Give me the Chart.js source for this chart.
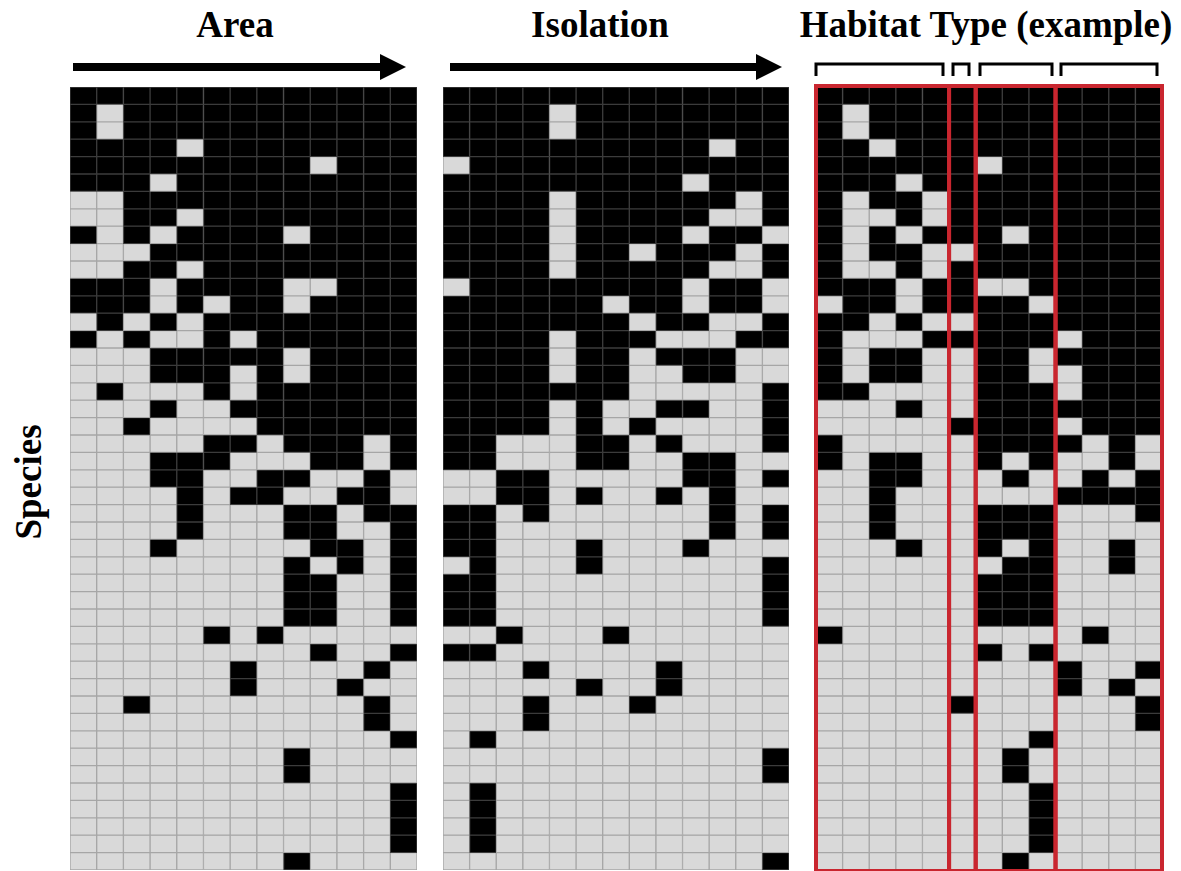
<!DOCTYPE html>
<html>
<head>
<meta charset="utf-8">
<script src="https://cdn.jsdelivr.net/npm/chart.js@4.4.1/dist/chart.umd.min.js"></script>
<style>
  html, body { margin: 0; padding: 0; background: #fff; }
  body { width: 1181px; height: 871px; position: relative; overflow: hidden;
         font-family: "Liberation Serif", "Times New Roman", serif; }
  canvas { position: absolute; }
  .title { position: absolute; top: 6px; font-weight: bold; font-size: 37px; line-height: 1;
           transform: translateX(-50%); white-space: nowrap; color: #000; }
  .ylab { position: absolute; left: 28px; top: 482px; font-weight: bold; font-size: 37px; line-height: 1;
          transform: translate(-50%, -50%) rotate(-90deg); white-space: nowrap; color: #000; }
  svg { position: absolute; left: 0; top: 0; }
</style>
</head>
<body>
<div class="title" style="left:235px">Area</div>
<div class="title" style="left:600px">Isolation</div>
<div class="title" style="left:986px">Habitat Type (example)</div>
<div class="ylab">Species</div>
<svg width="1181" height="100">
  <line x1="73" y1="67" x2="384" y2="67" stroke="#000" stroke-width="8"/>
  <polygon points="380,54 406,67 380,80" fill="#000"/>
  <line x1="450" y1="67" x2="760" y2="67" stroke="#000" stroke-width="8"/>
  <polygon points="756,54 782,67 756,80" fill="#000"/>
  <polyline points="816,76 816,64 943,64 943,76" fill="none" stroke="#000" stroke-width="3"/>
  <polyline points="953,76 953,64 969,64 969,76" fill="none" stroke="#000" stroke-width="3"/>
  <polyline points="980,76 980,64 1052,64 1052,76" fill="none" stroke="#000" stroke-width="3"/>
  <polyline points="1061,76 1061,64 1157,64 1157,76" fill="none" stroke="#000" stroke-width="3"/>
</svg>
<canvas id="c1" width="347" height="783" style="left:70px;top:87px"></canvas>
<canvas id="c2" width="346" height="783" style="left:443px;top:87px"></canvas>
<canvas id="c3" width="356" height="789" style="left:811px;top:82px"></canvas>
<script>
// Sites (columns) and presence (1) / absence (0) of each species (rows)
const sites = ['1','2','3','4','5','6','7','8','9','10','11','12','13'];

const areaRows = [
  '1111111111111','1011111111111','1011111111111','1111011111111','1111111110111',
  '1110111111111','0011111111111','0011011111111','1010111101111','0001111111111',
  '0011011111111','1110111100111','1110101101111','0101011111111','1010010111111',
  '0001111101111','0001110101111','0100010111111','0001001111111','0010000111111',
  '0000011011101','0001110001101','0001100110010','0000101100110','0000100011011',
  '0000100011001','0001000001101','0000000010101','0000000011001','0000000011001',
  '0000000011001','0000010100000','0000000001001','0000001000010','0000001000100',
  '0010000000010','0000000000010','0000000000001','0000000010000','0000000010000',
  '0000000000001','0000000000001','0000000000001','0000000000001','0000000010000'
];

const isolationRows = [
  '1111111111111','1111011111111','1111011111111','1111111111011','0111111111111',
  '1111111110111','1111011111101','1111011111001','1111011110110','1111011011101',
  '1111011111001','0111111110110','1111110110110','1111111011001','1111011100011',
  '1111011011100','1111011001100','1111111000001','1111010011001','1111010100001',
  '1100011010001','1100011001100','0011000001101','0011010010100','1101000000101',
  '1100000000101','1100010001000','0100010000001','1100000000001','1100000000001',
  '1100000000001','0010001000000','1100000000000','0001000010000','0000010010000',
  '0001000100000','0001000000000','0100000000000','0000000000001','0000000000001',
  '0100000000000','0100000000000','0100000000000','0100000000000','0000000000001'
];

const habitatRows = [
  '1111111111111','1011111111111','1011111111111','1101111111111','1111110111111',
  '1110111111111','1011011111111','1001011111111','1010111011111','1011001111111',
  '1001011111111','1110110011111','0110111101111','1101001111111','1000111110111',
  '1011001101111','1011001100111','1100001110111','0001001111111','0000011110111',
  '1000001111010','1011001010010','0011000100101','0010000001111','0010001110001',
  '0010001110000','0001001010010','0000000110010','0000001110000','0000001110000',
  '0000001110000','1000000000100','0000001010000','0000000001001','0000000001010',
  '0000010000001','0000000000001','0000000010000','0000000100000','0000000100000',
  '0000000010000','0000000010000','0000000010000','0000000010000','0000000100000'
];

// Habitat type groups: number of consecutive sites in each
const habitatGroups = [5, 1, 3, 4];

const PRESENT = '#000000', ABSENT = '#d9d9d9';
const PRESENT_EDGE = '#3c3c3c', ABSENT_EDGE = '#a6a6a6';

function buildDatasets(rows) {
  return rows.map((row, r) => {
    const cells = row.split('');
    return {
      label: 'Species ' + (r + 1),
      data: sites.map(() => 1),
      backgroundColor: cells.map(c => c === '1' ? PRESENT : ABSENT),
      borderColor: cells.map(c => c === '1' ? PRESENT_EDGE : ABSENT_EDGE),
      borderWidth: 1,
      borderSkipped: false,
      barPercentage: 1,
      categoryPercentage: 1
    };
  });
}

function makeChart(id, rows, padding, plugins) {
  return new Chart(document.getElementById(id), {
    type: 'bar',
    data: { labels: sites, datasets: buildDatasets(rows) },
    options: {
      responsive: false,
      animation: false,
      devicePixelRatio: 1,
      layout: { padding: padding },
      plugins: { legend: { display: false }, tooltip: { enabled: false } },
      scales: {
        x: { stacked: true, display: false, offset: true, grid: { display: false } },
        y: { stacked: true, display: false, min: 0, max: rows.length, reverse: true, grid: { display: false } }
      }
    },
    plugins: plugins || []
  });
}

const groupBoxes = {
  id: 'groupBoxes',
  afterDatasetsDraw(chart) {
    const { ctx, chartArea, scales: { x } } = chart;
    const w = (chartArea.right - chartArea.left) / sites.length;
    ctx.save();
    ctx.strokeStyle = '#c9262f';
    ctx.lineWidth = 4;
    let start = 0;
    habitatGroups.forEach(n => {
      const l = x.getPixelForValue(start) - w / 2;
      const r = x.getPixelForValue(start + n - 1) + w / 2;
      ctx.strokeRect(l, chartArea.top - 1, r - l, chartArea.bottom - chartArea.top + 2);
      start += n;
    });
    ctx.restore();
  }
};

makeChart('c1', areaRows, 0);
makeChart('c2', isolationRows, 0);
makeChart('c3', habitatRows, { left: 5, right: 5, top: 5, bottom: 1 }, [groupBoxes]);
</script>
</body>
</html>
